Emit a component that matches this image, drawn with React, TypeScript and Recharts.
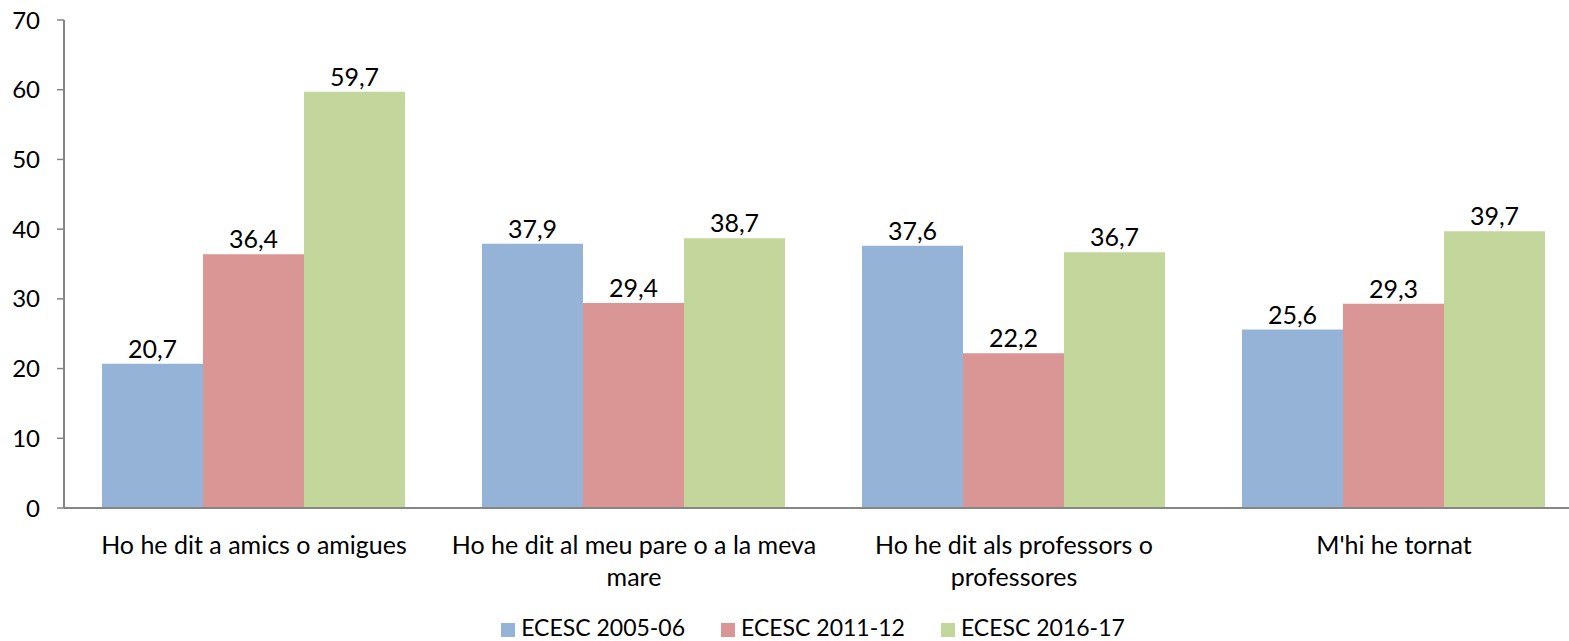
import React from 'react'
import {
  BarChart,
  Bar,
  XAxis,
  YAxis,
  Legend,
  LabelList,
} from 'recharts'

// Categories (x axis), line breaks as in the picture
const categories = [
  'Ho he dit a amics o amigues',
  'Ho he dit al meu pare o a la meva\nmare',
  'Ho he dit als professors o\nprofessores',
  "M'hi he tornat",
]

// Series values
const ecesc0506 = [20.7, 37.9, 37.6, 25.6]
const ecesc1112 = [36.4, 29.4, 22.2, 29.3]
const ecesc1617 = [59.7, 38.7, 36.7, 39.7]

const yTicks = [0, 10, 20, 30, 40, 50, 60, 70]
const boundaryTicks = [0, 1, 2, 3, 4]

const data = categories.map((name, i) => ({
  name,
  pos: i + 0.5,
  s1: ecesc0506[i],
  s2: ecesc1112[i],
  s3: ecesc1617[i],
}))

const FONT = 'Lato, sans-serif'
const FS = 25
const axisColor = '#868686'

const fmt = (v: any) => String(v).replace('.', ',')
const labelStyle = { fontSize: FS, fontFamily: FONT, fill: '#000' }

function CategoryTick(props: any) {
  const { x, y, payload } = props
  const lines = String(payload.value).split('\n')
  return (
    <text x={x} y={y + 38} textAnchor="middle" fontSize={FS} fontFamily={FONT} fill="#000">
      {lines.map((l, i) => (
        <tspan key={i} x={x} dy={i === 0 ? 0 : 32}>{l}</tspan>
      ))}
    </text>
  )
}

export default function App() {
  return (
    <div style={{ position: 'absolute', left: 0, top: 0, width: 1569, height: 641, overflow: 'hidden', background: '#fff' }}>
      <BarChart
        width={1600}
        height={641}
        data={data}
        margin={{ top: 20, right: 16, left: 0, bottom: 0 }}
        barCategoryGap="10%"
        barGap={0}
      >
        <XAxis
          dataKey="name"
          xAxisId="cat"
          tickLine={false}
          axisLine={{ stroke: axisColor, strokeWidth: 2 }}
          tick={<CategoryTick />}
          interval={0}
          height={111}
        />
        <XAxis
          xAxisId="edge"
          type="number"
          dataKey="pos"
          domain={[0, 4]}
          ticks={boundaryTicks}
          tick={false}
          axisLine={false}
          tickLine={{ stroke: axisColor, strokeWidth: 1.5 }}
          tickSize={8}
          height={0}
          allowDataOverflow
        />
        <YAxis
          domain={[0, 70]}
          ticks={yTicks}
          width={64}
          axisLine={{ stroke: axisColor, strokeWidth: 2 }}
          tickLine={{ stroke: axisColor, strokeWidth: 1.5 }}
          tickSize={7}
          tick={{ fontSize: 24, fontFamily: FONT, fill: '#000' }}
          tickMargin={17}
        />
        <Legend
          verticalAlign="bottom"
          iconType="square"
          iconSize={14}
          wrapperStyle={{ fontFamily: FONT, fontSize: 23, color: '#000', paddingLeft: 39, top: 616, bottom: 'auto', lineHeight: '22px', height: 22 }}
          formatter={(v: string) => <span style={{ color: '#000', marginRight: 26, marginLeft: 2 }}>{v}</span>}
        />
        <Bar xAxisId="cat" dataKey="s1" name="ECESC 2005-06" fill="#95B3D7" isAnimationActive={false}>
          <LabelList dataKey="s1" position="top" offset={6} formatter={fmt} style={labelStyle} />
        </Bar>
        <Bar xAxisId="cat" dataKey="s2" name="ECESC 2011-12" fill="#D99694" isAnimationActive={false}>
          <LabelList dataKey="s2" position="top" offset={6} formatter={fmt} style={labelStyle} />
        </Bar>
        <Bar xAxisId="cat" dataKey="s3" name="ECESC 2016-17" fill="#C3D69B" isAnimationActive={false}>
          <LabelList dataKey="s3" position="top" offset={6} formatter={fmt} style={labelStyle} />
        </Bar>
      </BarChart>
    </div>
  )
}
